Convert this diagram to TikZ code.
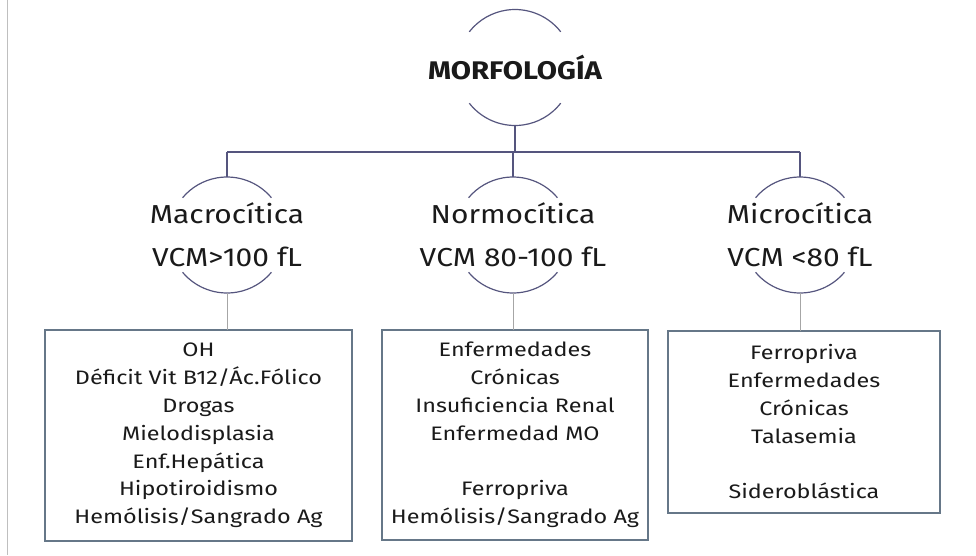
\documentclass[tikz,border=0pt]{standalone}
\usepackage{fontspec}
\setmainfont{Fira Sans}[FakeStretch=1.15]
\newfontfamily\listfont{Fira Sans}[FakeStretch=1.2]
\definecolor{linec}{HTML}{55557E}
\definecolor{boxc}{HTML}{667788}
\definecolor{txt}{HTML}{1A1A1A}
\begin{document}
\begin{tikzpicture}[x=1pt,y=-1pt,
  ring/.style={circle,draw=none,minimum size=116pt,inner sep=0pt,outer sep=0pt},
  ringtext/.style={align=center,text=txt,inner sep=0pt,font=\fontsize{26}{43}\selectfont},
  arcline/.style={draw=linec,line width=1.2pt},
  conn/.style={draw=linec,line width=1.2pt},
  stem/.style={draw=gray!70,line width=0.8pt},
  listbox/.style={draw=boxc,line width=1.3pt,align=center,text=txt,inner sep=0pt,outer sep=0pt,
    font=\listfont\fontsize{19.5}{27.8}\selectfont}]
\useasboundingbox (0,0) rectangle (976,555);
\draw[gray!50,line width=0.8pt] (7,0) -- (7,555);
% top
\node[ring] (m) at (515,67.5) {};
\node[ringtext,font=\fontsize{25.5}{30}\selectfont\bfseries] (mt) at (m.center) {MORFOLOGÍA};
\draw[arcline] (m.38) arc[start angle=38,end angle=142,radius=58pt];
\draw[arcline] (m.218) arc[start angle=218,end angle=322,radius=58pt];
% children
\node[ring] (c1) at (227,235) {};
\node[ring] (c2) at (513,235) {};
\node[ring] (c3) at (800,235) {};
\node[ringtext] (t1) at (c1.center) {Macrocítica\\VCM>100 fL};
\node[ringtext] (t2) at (c2.center) {Normocítica\\VCM 80-100 fL};
\node[ringtext] (t3) at (c3.center) {Microcítica\\VCM <80 fL};
\foreach \c in {c1,c2,c3}{
  \draw[arcline] (\c.40) arc[start angle=40,end angle=140,radius=58pt];
  \draw[arcline] (\c.220) arc[start angle=220,end angle=320,radius=58pt];
}
\coordinate (bar) at (515,152);
\draw[conn] (m.south) -- (m.south |- bar);
\draw[conn] (c1.north |- bar) -- (c3.north |- bar);
\draw[conn] (c1.north |- bar) -- (c1.north);
\draw[conn] (c2.north |- bar) -- (c2.north);
\draw[conn] (c3.north |- bar) -- (c3.north);
% boxes
\node[listbox,minimum width=307pt,minimum height=211pt] (b1) at (198.5,435.5)
  {OH\\Déficit Vit B12/Ác.Fólico\\Drogas\\Mielodisplasia\\Enf.Hepática\\Hipotiroidismo\\Hemólisis/Sangrado Ag};
\node[listbox,minimum width=266pt,minimum height=210pt] (b2) at (515,435)
  {Enfermedades\\Crónicas\\Insuficiencia Renal\\Enfermedad MO\\[27.8pt]Ferropriva\\Hemólisis/Sangrado Ag};
\node[listbox,minimum width=272pt,minimum height=182pt] (b3) at (804,422)
  {Ferropriva\\Enfermedades\\Crónicas\\Talasemia\\[27.8pt]Sideroblástica};
\draw[stem] (c1.south) -- (c1.south |- b1.north);
\draw[stem] (c2.south) -- (c2.south |- b2.north);
\draw[stem] (c3.south) -- (c3.south |- b3.north);
\end{tikzpicture}
\end{document}
